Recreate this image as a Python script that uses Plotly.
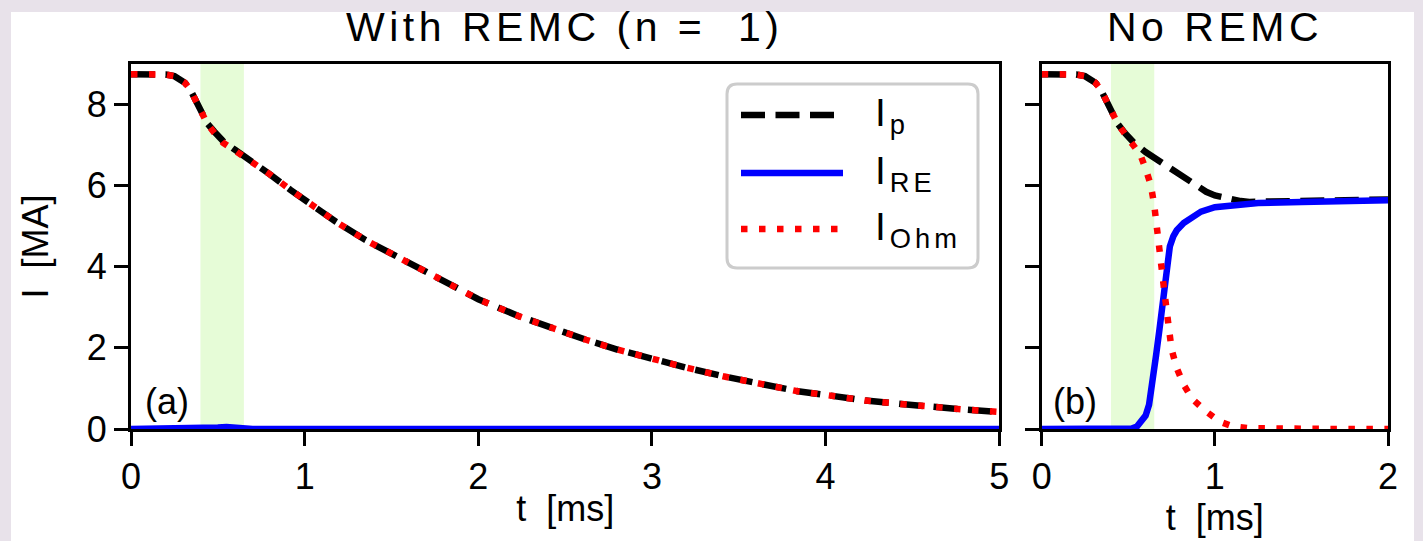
import plotly.graph_objects as go

# ---------------- data ----------------
# Panel (a): with REMC (n = 1)
t_a = [0, 0.1, 0.2, 0.25, 0.28, 0.31, 0.34, 0.37, 0.40, 0.44, 0.48, 0.53, 0.60,
       0.69, 0.8, 0.92, 1.0, 1.18, 1.35, 1.53, 1.70, 1.87, 2.0, 2.24, 2.43, 2.62,
       2.80, 3.01, 3.2, 3.41, 3.6, 3.84, 4.0, 4.23, 4.45, 4.63, 4.8, 5.0]
ip_a = [8.75, 8.75, 8.74, 8.70, 8.64, 8.54, 8.38, 8.12, 7.86, 7.53, 7.33, 7.10, 6.88,
        6.62, 6.28, 5.89, 5.64, 5.11, 4.66, 4.25, 3.85, 3.47, 3.20, 2.77, 2.47, 2.20,
        1.96, 1.71, 1.51, 1.30, 1.13, 0.93, 0.84, 0.70, 0.61, 0.53, 0.48, 0.42]
iohm_a = [8.75, 8.75, 8.74, 8.70, 8.64, 8.54, 8.38, 8.12, 7.86, 7.52, 7.30, 7.06, 6.86,
          6.62, 6.28, 5.89, 5.64, 5.11, 4.66, 4.25, 3.85, 3.47, 3.20, 2.77, 2.47, 2.20,
          1.96, 1.71, 1.51, 1.30, 1.13, 0.93, 0.84, 0.70, 0.61, 0.53, 0.48, 0.42]
t_re_a = [0, 0.4, 0.45, 0.5, 0.55, 0.6, 0.65, 0.7, 5.0]
ire_a = [0.0, 0.0, 0.02, 0.04, 0.05, 0.03, 0.01, 0.0, 0.0]

# Panel (b): no REMC
t_p_b = [0, 0.1, 0.2, 0.25, 0.28, 0.31, 0.34, 0.37, 0.40, 0.44, 0.48, 0.53, 0.60,
         0.66, 0.72, 0.78, 0.84, 0.90, 0.95, 1.0, 1.05, 1.1, 1.15, 1.2, 1.3, 1.5, 1.75, 2.0]
ip_b = [8.75, 8.75, 8.74, 8.70, 8.64, 8.54, 8.38, 8.10, 7.84, 7.52, 7.30, 7.07, 6.83,
        6.66, 6.50, 6.33, 6.15, 5.98, 5.85, 5.76, 5.70, 5.65, 5.62, 5.60, 5.60, 5.62, 5.64, 5.66]
t_re_b = [0, 0.4, 0.5, 0.52, 0.55, 0.58, 0.60, 0.62, 0.64, 0.66, 0.68, 0.70, 0.72,
          0.74, 0.76, 0.78, 0.82, 0.87, 0.92, 1.0, 1.1, 1.25, 1.5, 1.75, 2.0]
ire_b = [0.0, 0.0, 0.0, 0.01, 0.06, 0.20, 0.33, 0.60, 1.10, 1.80, 2.45, 3.15, 3.85,
         4.50, 4.75, 4.90, 5.08, 5.22, 5.36, 5.47, 5.52, 5.57, 5.60, 5.62, 5.64]
t_ohm_b = [0, 0.1, 0.2, 0.25, 0.28, 0.31, 0.34, 0.37, 0.40, 0.44, 0.48, 0.53, 0.57,
           0.60, 0.63, 0.65, 0.67, 0.69, 0.71, 0.73, 0.75, 0.78, 0.82, 0.87, 0.95,
           1.03, 1.1, 1.2, 1.4, 1.7, 2.0]
iohm_b = [8.75, 8.75, 8.74, 8.70, 8.64, 8.54, 8.38, 8.10, 7.84, 7.52, 7.28, 7.02, 6.76,
          6.42, 6.02, 5.52, 4.68, 3.99, 3.33, 2.64, 1.97, 1.50, 1.09, 0.74, 0.43,
          0.18, 0.07, 0.02, 0.0, 0.0, 0.0]

span_ms = [0.40, 0.65]
x_ticks_a = [0, 1, 2, 3, 4, 5]
x_ticks_b = [0, 1, 2]
y_ticks = [0, 2, 4, 6, 8]
x_range_a = [0, 5]
x_range_b = [0, 2]
y_range = [0, 9]
panel_titles = ["With REMC (n =\u00a0\u00a01)", "No REMC"]
panel_tags = ["(a)", "(b)"]
series_names = ["I<sub>p</sub>", "I<sub>RE</sub>", "I<sub>Ohm</sub>"]

# ---------------- styling ----------------
W, H = 1423, 541
ML, MR, MT, MB = 131, 35, 64, 112
PW, PH = W - ML - MR, H - MT - MB
FONT = "Liberation Sans, Arial, Helvetica, sans-serif"
LW = 6.5
styles = [
    dict(color="#000000", width=LW, dash="24px,10.5px"),
    dict(color="#0000ff", width=LW, dash="solid"),
    dict(color="#ff0000", width=LW, dash="6.5px,11.5px"),
]


def px(X):
    return (X - ML) / PW


def py(Y):
    return (H - MB - Y) / PH


def spaced(text, s):
    return '<span style="letter-spacing:%spx">%s</span>' % (s, text)


fig = go.Figure()

# panel (a)
fig.add_trace(go.Scatter(x=t_a, y=ip_a, mode="lines", name="I_p", line=styles[0],
                         xaxis="x", yaxis="y", showlegend=False))
fig.add_trace(go.Scatter(x=t_re_a, y=ire_a, mode="lines", name="I_RE", line=styles[1],
                         xaxis="x", yaxis="y", showlegend=False))
fig.add_trace(go.Scatter(x=t_a, y=iohm_a, mode="lines", name="I_Ohm", line=styles[2],
                         xaxis="x", yaxis="y", showlegend=False))
# panel (b)
fig.add_trace(go.Scatter(x=t_p_b, y=ip_b, mode="lines", name="I_p", line=styles[0],
                         xaxis="x2", yaxis="y2", showlegend=False))
fig.add_trace(go.Scatter(x=t_re_b, y=ire_b, mode="lines", name="I_RE", line=styles[1],
                         xaxis="x2", yaxis="y2", showlegend=False))
fig.add_trace(go.Scatter(x=t_ohm_b, y=iohm_b, mode="lines", name="I_Ohm", line=styles[2],
                         xaxis="x2", yaxis="y2", showlegend=False))

axis_common = dict(showline=True, linewidth=3, linecolor="black", mirror=True,
                   ticks="outside", ticklen=14, tickwidth=3, tickcolor="black",
                   showgrid=False, zeroline=False,
                   tickfont=dict(size=36, color="black", family=FONT))

fig.update_layout(
    width=W, height=H,
    margin=dict(l=ML, r=MR, t=MT, b=MB),
    paper_bgcolor="#e8e2ea", plot_bgcolor="white",
    font=dict(family=FONT, color="black"),
    xaxis=dict(domain=[0, px(999.3)], range=x_range_a, tickvals=x_ticks_a, anchor="y",
               title=dict(text="t\u00a0\u00a0[ms]", font=dict(size=36), standoff=0),
               **axis_common),
    yaxis=dict(domain=[0, 1], range=y_range, tickvals=y_ticks, anchor="x",
               title=dict(text="I\u00a0\u00a0[MA]", font=dict(size=36), standoff=28),
               **axis_common),
    xaxis2=dict(domain=[px(1041.7), 1], range=x_range_b, tickvals=x_ticks_b, anchor="y2",
                title=dict(text="t\u00a0\u00a0[ms]", font=dict(size=36), standoff=0),
                **axis_common),
    yaxis2=dict(domain=[0, 1], range=y_range, tickvals=y_ticks, anchor="x2",
                showticklabels=False, **axis_common),
)

shapes = []
# white page panel on lavender background
shapes.append(dict(type="rect", xref="paper", yref="paper", x0=px(11), x1=px(1414),
                   y0=py(541), y1=py(12), fillcolor="white", line=dict(width=0), layer="below"))
for xr, yr in (("x", "y domain"), ("x2", "y2 domain")):
    shapes.append(dict(type="rect", xref=xr, yref=yr, x0=span_ms[0], x1=span_ms[1],
                       y0=0, y1=1, fillcolor="#e6fcd7", line=dict(width=0), layer="below"))

# custom legend (rounded frame, long line samples)
x0, x1, yt, yb, r = px(727), px(978), py(84), py(268), 10
rx, ry = r / PW, r / PH
path = (f"M {x0+rx},{yt} L {x1-rx},{yt} Q {x1},{yt} {x1},{yt-ry} L {x1},{yb+ry} "
        f"Q {x1},{yb} {x1-rx},{yb} L {x0+rx},{yb} Q {x0},{yb} {x0},{yb+ry} "
        f"L {x0},{yt-ry} Q {x0},{yt} {x0+rx},{yt} Z")
shapes.append(dict(type="path", xref="paper", yref="paper", path=path,
                   fillcolor="white", line=dict(color="#cccccc", width=3), layer="above"))
legend_rows = [115, 173, 229]
for st, Y in zip(styles, legend_rows):
    shapes.append(dict(type="line", xref="paper", yref="paper", x0=px(741), x1=px(843),
                       y0=py(Y), y1=py(Y), line=dict(color=st["color"], width=LW, dash=st["dash"]),
                       layer="above"))
fig.update_layout(shapes=shapes)

ann = []
for name, Y in zip(series_names, legend_rows):
    ann.append(dict(xref="paper", yref="paper", x=px(873), y=py(Y), xanchor="left",
                    yanchor="middle", text=spaced(name, 4), showarrow=False,
                    font=dict(size=39, family=FONT, color="black")))
ann.append(dict(xref="paper", yref="paper", x=px(565), y=py(27), xanchor="center",
                yanchor="middle", text=spaced(panel_titles[0], 4.5), showarrow=False,
                font=dict(size=41, family=FONT, color="black")))
ann.append(dict(xref="paper", yref="paper", x=px(1215), y=py(27), xanchor="center",
                yanchor="middle", text=spaced(panel_titles[1], 4.5), showarrow=False,
                font=dict(size=41, family=FONT, color="black")))
ann.append(dict(xref="paper", yref="paper", x=px(143), y=py(401), xanchor="left",
                yanchor="middle", text=panel_tags[0], showarrow=False,
                font=dict(size=36, family=FONT, color="black")))
ann.append(dict(xref="paper", yref="paper", x=px(1051), y=py(401), xanchor="left",
                yanchor="middle", text=panel_tags[1], showarrow=False,
                font=dict(size=36, family=FONT, color="black")))
fig.update_layout(annotations=ann)

fig.write_html("out.html", config={"displayModeBar": False},
               post_script="document.body.style.margin='0';")
